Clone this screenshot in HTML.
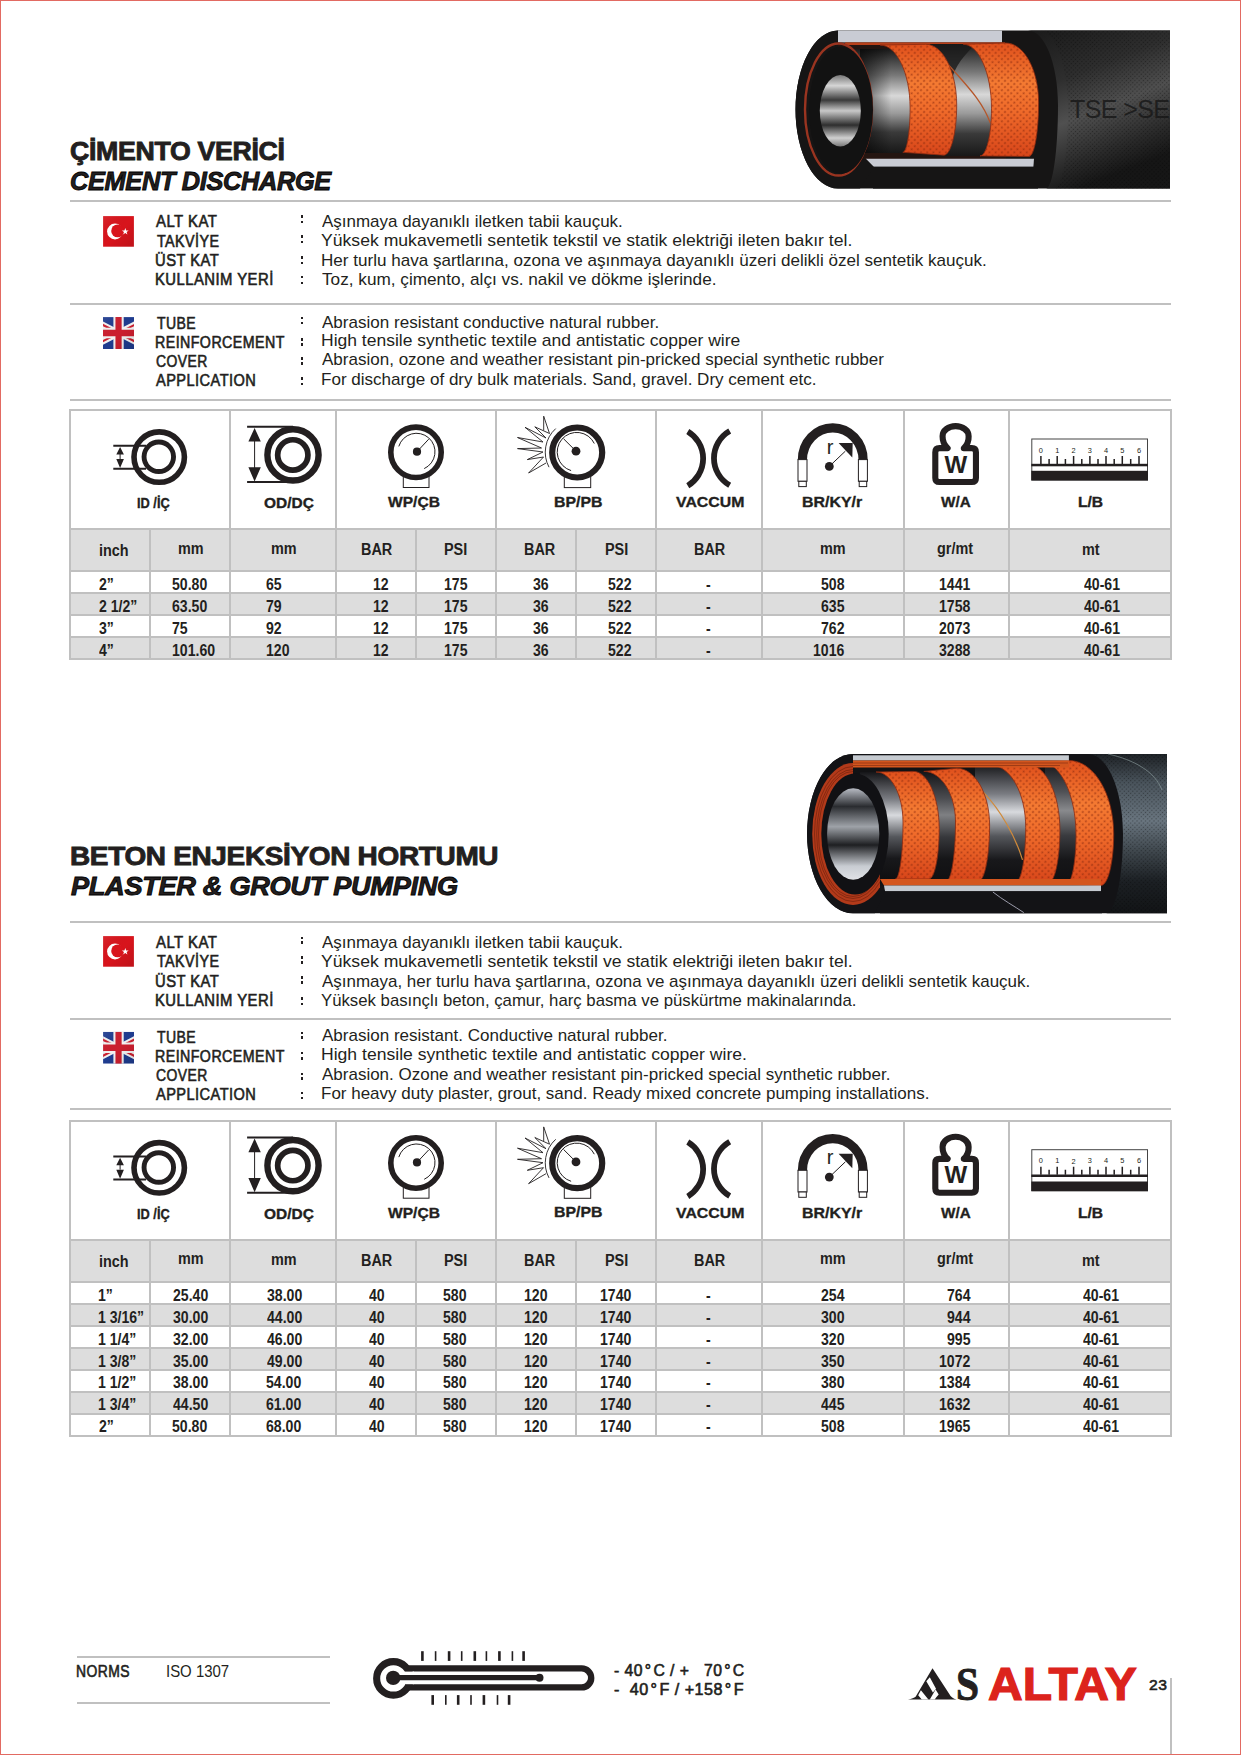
<!DOCTYPE html>
<html><head><meta charset="utf-8"><style>
html,body{margin:0;padding:0;background:#fff;overflow:hidden}
#pg{position:relative;width:1241px;height:1755px;overflow:hidden;background:#fff}
.t{position:absolute;white-space:nowrap;line-height:normal;transform-origin:0 0}
.r{position:absolute}
#bd{position:absolute;left:0;top:0;width:1239px;height:1753px;border:1px solid #e26a62}
</style></head><body><div id="pg">
<div class="r" style="left:70px;top:200.40px;width:1101px;height:2px;background:#c0c0c0"></div><div class="r" style="left:70px;top:302.90px;width:1101px;height:2px;background:#c0c0c0"></div><div class="r" style="left:70px;top:399.00px;width:1101px;height:2px;background:#c0c0c0"></div><div class="r" style="left:70px;top:920.80px;width:1101px;height:2px;background:#c0c0c0"></div><div class="r" style="left:70px;top:1017.90px;width:1101px;height:2px;background:#c0c0c0"></div><div class="r" style="left:70px;top:1108.00px;width:1101px;height:2px;background:#c0c0c0"></div><div class="r" style="left:70px;top:529.3px;width:1101px;height:41.700000000000045px;background:#dddddd"></div><div class="r" style="left:70px;top:593.4px;width:1101px;height:21.899999999999977px;background:#dddddd"></div><div class="r" style="left:70px;top:637.3px;width:1101px;height:21.90000000000009px;background:#dddddd"></div><div class="r" style="left:69px;top:409.10px;width:1103px;height:2px;background:#c0c0c0"></div><div class="r" style="left:69px;top:528.30px;width:1103px;height:2px;background:#c0c0c0"></div><div class="r" style="left:69px;top:570.00px;width:1103px;height:2px;background:#c0c0c0"></div><div class="r" style="left:69px;top:592.40px;width:1103px;height:2px;background:#c0c0c0"></div><div class="r" style="left:69px;top:614.30px;width:1103px;height:2px;background:#c0c0c0"></div><div class="r" style="left:69px;top:636.30px;width:1103px;height:2px;background:#c0c0c0"></div><div class="r" style="left:69px;top:658.20px;width:1103px;height:2px;background:#c0c0c0"></div><div class="r" style="left:69.00px;top:409.1px;width:2px;height:251.10000000000002px;background:#c0c0c0"></div><div class="r" style="left:229.00px;top:409.1px;width:2px;height:251.10000000000002px;background:#c0c0c0"></div><div class="r" style="left:335.30px;top:409.1px;width:2px;height:251.10000000000002px;background:#c0c0c0"></div><div class="r" style="left:495.30px;top:409.1px;width:2px;height:251.10000000000002px;background:#c0c0c0"></div><div class="r" style="left:655.30px;top:409.1px;width:2px;height:251.10000000000002px;background:#c0c0c0"></div><div class="r" style="left:761.00px;top:409.1px;width:2px;height:251.10000000000002px;background:#c0c0c0"></div><div class="r" style="left:903.30px;top:409.1px;width:2px;height:251.10000000000002px;background:#c0c0c0"></div><div class="r" style="left:1008.00px;top:409.1px;width:2px;height:251.10000000000002px;background:#c0c0c0"></div><div class="r" style="left:1170.00px;top:409.1px;width:2px;height:251.10000000000002px;background:#c0c0c0"></div><div class="r" style="left:149.20px;top:529.3px;width:2px;height:129.9000000000001px;background:#c0c0c0"></div><div class="r" style="left:415.30px;top:529.3px;width:2px;height:129.9000000000001px;background:#c0c0c0"></div><div class="r" style="left:575.30px;top:529.3px;width:2px;height:129.9000000000001px;background:#c0c0c0"></div><div class="r" style="left:70px;top:1240.0px;width:1101px;height:41.5px;background:#dddddd"></div><div class="r" style="left:70px;top:1303.5px;width:1101px;height:22.09999999999991px;background:#dddddd"></div><div class="r" style="left:70px;top:1347.8px;width:1101px;height:22.100000000000136px;background:#dddddd"></div><div class="r" style="left:70px;top:1392.0px;width:1101px;height:22.200000000000045px;background:#dddddd"></div><div class="r" style="left:69px;top:1120.00px;width:1103px;height:2px;background:#c0c0c0"></div><div class="r" style="left:69px;top:1239.00px;width:1103px;height:2px;background:#c0c0c0"></div><div class="r" style="left:69px;top:1280.50px;width:1103px;height:2px;background:#c0c0c0"></div><div class="r" style="left:69px;top:1302.50px;width:1103px;height:2px;background:#c0c0c0"></div><div class="r" style="left:69px;top:1324.60px;width:1103px;height:2px;background:#c0c0c0"></div><div class="r" style="left:69px;top:1346.80px;width:1103px;height:2px;background:#c0c0c0"></div><div class="r" style="left:69px;top:1368.90px;width:1103px;height:2px;background:#c0c0c0"></div><div class="r" style="left:69px;top:1391.00px;width:1103px;height:2px;background:#c0c0c0"></div><div class="r" style="left:69px;top:1413.20px;width:1103px;height:2px;background:#c0c0c0"></div><div class="r" style="left:69px;top:1435.00px;width:1103px;height:2px;background:#c0c0c0"></div><div class="r" style="left:69.00px;top:1120.0px;width:2px;height:317.0px;background:#c0c0c0"></div><div class="r" style="left:229.00px;top:1120.0px;width:2px;height:317.0px;background:#c0c0c0"></div><div class="r" style="left:335.30px;top:1120.0px;width:2px;height:317.0px;background:#c0c0c0"></div><div class="r" style="left:495.30px;top:1120.0px;width:2px;height:317.0px;background:#c0c0c0"></div><div class="r" style="left:655.30px;top:1120.0px;width:2px;height:317.0px;background:#c0c0c0"></div><div class="r" style="left:761.00px;top:1120.0px;width:2px;height:317.0px;background:#c0c0c0"></div><div class="r" style="left:903.30px;top:1120.0px;width:2px;height:317.0px;background:#c0c0c0"></div><div class="r" style="left:1008.00px;top:1120.0px;width:2px;height:317.0px;background:#c0c0c0"></div><div class="r" style="left:1170.00px;top:1120.0px;width:2px;height:317.0px;background:#c0c0c0"></div><div class="r" style="left:149.20px;top:1240.0px;width:2px;height:196.0px;background:#c0c0c0"></div><div class="r" style="left:415.30px;top:1240.0px;width:2px;height:196.0px;background:#c0c0c0"></div><div class="r" style="left:575.30px;top:1240.0px;width:2px;height:196.0px;background:#c0c0c0"></div><div class="r" style="left:300.5px;top:215.3px;width:2.5px;height:2.3999999999999773px;background:#231f20"></div><div class="r" style="left:300.5px;top:220.5px;width:2.5px;height:2.4000000000000057px;background:#231f20"></div><div class="r" style="left:300.5px;top:235.3px;width:2.5px;height:2.3999999999999773px;background:#231f20"></div><div class="r" style="left:300.5px;top:241.0px;width:2.5px;height:2.4000000000000057px;background:#231f20"></div><div class="r" style="left:300.5px;top:256.4px;width:2.5px;height:2.400000000000034px;background:#231f20"></div><div class="r" style="left:300.5px;top:261.6px;width:2.5px;height:2.3999999999999773px;background:#231f20"></div><div class="r" style="left:300.5px;top:275.9px;width:2.5px;height:2.400000000000034px;background:#231f20"></div><div class="r" style="left:300.5px;top:281.7px;width:2.5px;height:2.400000000000034px;background:#231f20"></div><div class="r" style="left:300.5px;top:316.6px;width:2.5px;height:2.3999999999999773px;background:#231f20"></div><div class="r" style="left:300.5px;top:321.7px;width:2.5px;height:2.400000000000034px;background:#231f20"></div><div class="r" style="left:300.5px;top:338.2px;width:2.5px;height:2.400000000000034px;background:#231f20"></div><div class="r" style="left:300.5px;top:343.4px;width:2.5px;height:2.400000000000034px;background:#231f20"></div><div class="r" style="left:300.5px;top:357.2px;width:2.5px;height:2.400000000000034px;background:#231f20"></div><div class="r" style="left:300.5px;top:362.4px;width:2.5px;height:2.400000000000034px;background:#231f20"></div><div class="r" style="left:300.5px;top:377.2px;width:2.5px;height:2.400000000000034px;background:#231f20"></div><div class="r" style="left:300.5px;top:382.9px;width:2.5px;height:2.400000000000034px;background:#231f20"></div><div class="r" style="left:300.5px;top:936.7px;width:2.5px;height:2.3999999999999773px;background:#231f20"></div><div class="r" style="left:300.5px;top:941.4px;width:2.5px;height:2.3999999999999773px;background:#231f20"></div><div class="r" style="left:300.5px;top:956.2px;width:2.5px;height:2.3999999999999773px;background:#231f20"></div><div class="r" style="left:300.5px;top:961.4px;width:2.5px;height:2.3999999999999773px;background:#231f20"></div><div class="r" style="left:300.5px;top:976.2px;width:2.5px;height:2.3999999999999773px;background:#231f20"></div><div class="r" style="left:300.5px;top:981.4px;width:2.5px;height:2.3999999999999773px;background:#231f20"></div><div class="r" style="left:300.5px;top:997.2px;width:2.5px;height:2.3999999999999773px;background:#231f20"></div><div class="r" style="left:300.5px;top:1002.5px;width:2.5px;height:2.3999999999999773px;background:#231f20"></div><div class="r" style="left:300.5px;top:1031.5px;width:2.5px;height:2.400000000000091px;background:#231f20"></div><div class="r" style="left:300.5px;top:1036.3px;width:2.5px;height:2.400000000000091px;background:#231f20"></div><div class="r" style="left:300.5px;top:1052px;width:2.5px;height:2.400000000000091px;background:#231f20"></div><div class="r" style="left:300.5px;top:1057.3px;width:2.5px;height:2.400000000000091px;background:#231f20"></div><div class="r" style="left:300.5px;top:1072.6px;width:2.5px;height:2.400000000000091px;background:#231f20"></div><div class="r" style="left:300.5px;top:1077.3px;width:2.5px;height:2.400000000000091px;background:#231f20"></div><div class="r" style="left:300.5px;top:1092px;width:2.5px;height:2.400000000000091px;background:#231f20"></div><div class="r" style="left:300.5px;top:1096.8px;width:2.5px;height:2.400000000000091px;background:#231f20"></div><div class="r" style="left:76.9px;top:1656.00px;width:253.4px;height:2px;background:#c0c0c0"></div><div class="r" style="left:76.9px;top:1702.20px;width:253.4px;height:2px;background:#c0c0c0"></div><div class="r" style="left:1170.20px;top:1678.4px;width:2px;height:75.59999999999991px;background:#c0c0c0"></div><div class="t" style="left:69.78px;top:136.09px;font-size:26.2px;font-family:'Liberation Sans',sans-serif;font-weight:bold;-webkit-text-stroke:0.9px #231f20;letter-spacing:-0.3px;transform:scaleX(1.0191);color:#231f20">ÇİMENTO VERİCİ</div><div class="t" style="left:69.83px;top:166.29px;font-size:26.2px;font-family:'Liberation Sans',sans-serif;font-weight:bold;font-style:italic;-webkit-text-stroke:0.9px #000;letter-spacing:-0.3px;transform:scaleX(0.9657);color:#231f20">CEMENT DISCHARGE</div><div class="t" style="left:155.80px;top:212.04px;font-size:16.2px;font-family:'Liberation Sans',sans-serif;font-weight:normal;-webkit-text-stroke:0.6px #231f20;letter-spacing:0.5px;transform:scaleX(0.9227);color:#231f20">ALT KAT</div><div class="t" style="left:322.20px;top:211.86px;font-size:16.4px;font-family:'Liberation Sans',sans-serif;font-weight:normal;transform:scaleX(1.0349);color:#231f20">Aşınmaya dayanıklı iletken tabii kauçuk.</div><div class="t" style="left:156.80px;top:231.64px;font-size:16.2px;font-family:'Liberation Sans',sans-serif;font-weight:normal;-webkit-text-stroke:0.6px #231f20;letter-spacing:0.5px;transform:scaleX(0.8843);color:#231f20">TAKVİYE</div><div class="t" style="left:321.13px;top:231.46px;font-size:16.4px;font-family:'Liberation Sans',sans-serif;font-weight:normal;transform:scaleX(1.0742);color:#231f20">Yüksek mukavemetli sentetik tekstil ve statik elektriği ileten bakır tel.</div><div class="t" style="left:154.89px;top:251.04px;font-size:16.2px;font-family:'Liberation Sans',sans-serif;font-weight:normal;-webkit-text-stroke:0.6px #231f20;letter-spacing:0.5px;transform:scaleX(0.9145);color:#231f20">ÜST KAT</div><div class="t" style="left:321.16px;top:250.86px;font-size:16.4px;font-family:'Liberation Sans',sans-serif;font-weight:normal;transform:scaleX(1.0411);color:#231f20">Her turlu hava şartlarına, ozona ve aşınmaya dayanıklı üzeri delikli özel sentetik kauçuk.</div><div class="t" style="left:154.88px;top:269.94px;font-size:16.2px;font-family:'Liberation Sans',sans-serif;font-weight:normal;-webkit-text-stroke:0.6px #231f20;letter-spacing:0.5px;transform:scaleX(0.9173);color:#231f20">KULLANIM YERİ</div><div class="t" style="left:322.20px;top:269.76px;font-size:16.4px;font-family:'Liberation Sans',sans-serif;font-weight:normal;transform:scaleX(1.0485);color:#231f20">Toz, kum, çimento, alçı vs. nakil ve dökme işlerinde.</div><div class="t" style="left:156.80px;top:313.94px;font-size:16.2px;font-family:'Liberation Sans',sans-serif;font-weight:normal;-webkit-text-stroke:0.6px #231f20;letter-spacing:0.5px;transform:scaleX(0.8667);color:#231f20">TUBE</div><div class="t" style="left:322.20px;top:312.56px;font-size:16.4px;font-family:'Liberation Sans',sans-serif;font-weight:normal;transform:scaleX(1.0396);color:#231f20">Abrasion resistant conductive natural rubber.</div><div class="t" style="left:155.22px;top:332.74px;font-size:16.2px;font-family:'Liberation Sans',sans-serif;font-weight:normal;-webkit-text-stroke:0.6px #231f20;letter-spacing:0.5px;transform:scaleX(0.8788);color:#231f20">REINFORCEMENT</div><div class="t" style="left:321.13px;top:331.46px;font-size:16.4px;font-family:'Liberation Sans',sans-serif;font-weight:normal;transform:scaleX(1.0678);color:#231f20">High tensile synthetic textile and antistatic copper wire</div><div class="t" style="left:156.10px;top:351.94px;font-size:16.2px;font-family:'Liberation Sans',sans-serif;font-weight:normal;-webkit-text-stroke:0.6px #231f20;letter-spacing:0.5px;transform:scaleX(0.8593);color:#231f20">COVER</div><div class="t" style="left:322.20px;top:350.46px;font-size:16.4px;font-family:'Liberation Sans',sans-serif;font-weight:normal;transform:scaleX(1.0384);color:#231f20">Abrasion, ozone and weather resistant pin-pricked special synthetic rubber</div><div class="t" style="left:156.10px;top:371.24px;font-size:16.2px;font-family:'Liberation Sans',sans-serif;font-weight:normal;-webkit-text-stroke:0.6px #231f20;letter-spacing:0.5px;transform:scaleX(0.9009);color:#231f20">APPLICATION</div><div class="t" style="left:321.16px;top:369.96px;font-size:16.4px;font-family:'Liberation Sans',sans-serif;font-weight:normal;transform:scaleX(1.0399);color:#231f20">For discharge of dry bulk materials. Sand, gravel. Dry cement etc.</div><div class="t" style="left:69.73px;top:841.29px;font-size:26.2px;font-family:'Liberation Sans',sans-serif;font-weight:bold;-webkit-text-stroke:0.9px #231f20;letter-spacing:-0.3px;transform:scaleX(1.0674);color:#231f20">BETON ENJEKSİYON HORTUMU</div><div class="t" style="left:70.80px;top:871.09px;font-size:26.2px;font-family:'Liberation Sans',sans-serif;font-weight:bold;font-style:italic;-webkit-text-stroke:0.9px #000;letter-spacing:-0.3px;transform:scaleX(1.0375);color:#231f20">PLASTER & GROUT PUMPING</div><div class="t" style="left:155.80px;top:933.24px;font-size:16.2px;font-family:'Liberation Sans',sans-serif;font-weight:normal;-webkit-text-stroke:0.6px #231f20;letter-spacing:0.5px;transform:scaleX(0.9227);color:#231f20">ALT KAT</div><div class="t" style="left:322.20px;top:933.06px;font-size:16.4px;font-family:'Liberation Sans',sans-serif;font-weight:normal;transform:scaleX(1.0356);color:#231f20">Aşınmaya dayanıklı iletken tabii kauçuk.</div><div class="t" style="left:156.80px;top:951.74px;font-size:16.2px;font-family:'Liberation Sans',sans-serif;font-weight:normal;-webkit-text-stroke:0.6px #231f20;letter-spacing:0.5px;transform:scaleX(0.8843);color:#231f20">TAKVİYE</div><div class="t" style="left:321.13px;top:951.56px;font-size:16.4px;font-family:'Liberation Sans',sans-serif;font-weight:normal;transform:scaleX(1.0746);color:#231f20">Yüksek mukavemetli sentetik tekstil ve statik elektriği ileten bakır tel.</div><div class="t" style="left:154.89px;top:971.74px;font-size:16.2px;font-family:'Liberation Sans',sans-serif;font-weight:normal;-webkit-text-stroke:0.6px #231f20;letter-spacing:0.5px;transform:scaleX(0.9145);color:#231f20">ÜST KAT</div><div class="t" style="left:322.20px;top:971.56px;font-size:16.4px;font-family:'Liberation Sans',sans-serif;font-weight:normal;transform:scaleX(1.0351);color:#231f20">Aşınmaya, her turlu hava şartlarına, ozona ve aşınmaya dayanıklı üzeri delikli sentetik kauçuk.</div><div class="t" style="left:154.88px;top:990.74px;font-size:16.2px;font-family:'Liberation Sans',sans-serif;font-weight:normal;-webkit-text-stroke:0.6px #231f20;letter-spacing:0.5px;transform:scaleX(0.9173);color:#231f20">KULLANIM YERİ</div><div class="t" style="left:321.18px;top:990.56px;font-size:16.4px;font-family:'Liberation Sans',sans-serif;font-weight:normal;transform:scaleX(1.0220);color:#231f20">Yüksek basınçlı beton, çamur, harç basma ve püskürtme makinalarında.</div><div class="t" style="left:156.80px;top:1027.54px;font-size:16.2px;font-family:'Liberation Sans',sans-serif;font-weight:normal;-webkit-text-stroke:0.6px #231f20;letter-spacing:0.5px;transform:scaleX(0.8667);color:#231f20">TUBE</div><div class="t" style="left:322.20px;top:1025.96px;font-size:16.4px;font-family:'Liberation Sans',sans-serif;font-weight:normal;transform:scaleX(1.0387);color:#231f20">Abrasion resistant. Conductive natural rubber.</div><div class="t" style="left:155.22px;top:1046.64px;font-size:16.2px;font-family:'Liberation Sans',sans-serif;font-weight:normal;-webkit-text-stroke:0.6px #231f20;letter-spacing:0.5px;transform:scaleX(0.8788);color:#231f20">REINFORCEMENT</div><div class="t" style="left:321.13px;top:1044.86px;font-size:16.4px;font-family:'Liberation Sans',sans-serif;font-weight:normal;transform:scaleX(1.0722);color:#231f20">High tensile synthetic textile and antistatic copper wire.</div><div class="t" style="left:156.10px;top:1066.34px;font-size:16.2px;font-family:'Liberation Sans',sans-serif;font-weight:normal;-webkit-text-stroke:0.6px #231f20;letter-spacing:0.5px;transform:scaleX(0.8593);color:#231f20">COVER</div><div class="t" style="left:322.20px;top:1064.86px;font-size:16.4px;font-family:'Liberation Sans',sans-serif;font-weight:normal;transform:scaleX(1.0364);color:#231f20">Abrasion. Ozone and weather resistant pin-pricked special synthetic rubber.</div><div class="t" style="left:156.10px;top:1085.34px;font-size:16.2px;font-family:'Liberation Sans',sans-serif;font-weight:normal;-webkit-text-stroke:0.6px #231f20;letter-spacing:0.5px;transform:scaleX(0.9009);color:#231f20">APPLICATION</div><div class="t" style="left:321.16px;top:1083.86px;font-size:16.4px;font-family:'Liberation Sans',sans-serif;font-weight:normal;transform:scaleX(1.0369);color:#231f20">For heavy duty plaster, grout, sand. Ready mixed concrete pumping installations.</div><div class="t" style="left:137.46px;top:493.95px;font-size:15.3px;font-family:'Liberation Sans',sans-serif;font-weight:bold;-webkit-text-stroke:0.35px #231f20;transform:scaleX(0.8368);color:#231f20">ID /İÇ</div><div class="t" style="left:263.60px;top:493.85px;font-size:15.3px;font-family:'Liberation Sans',sans-serif;font-weight:bold;-webkit-text-stroke:0.35px #231f20;transform:scaleX(1.0122);color:#231f20">OD/DÇ</div><div class="t" style="left:388.40px;top:493.45px;font-size:15.3px;font-family:'Liberation Sans',sans-serif;font-weight:bold;-webkit-text-stroke:0.35px #231f20;transform:scaleX(1.0176);color:#231f20">WP/ÇB</div><div class="t" style="left:554.16px;top:492.75px;font-size:15.3px;font-family:'Liberation Sans',sans-serif;font-weight:bold;-webkit-text-stroke:0.35px #231f20;transform:scaleX(1.0356);color:#231f20">BP/PB</div><div class="t" style="left:675.70px;top:492.85px;font-size:15.3px;font-family:'Liberation Sans',sans-serif;font-weight:bold;-webkit-text-stroke:0.35px #231f20;transform:scaleX(1.0354);color:#231f20">VACCUM</div><div class="t" style="left:802.46px;top:492.85px;font-size:15.3px;font-family:'Liberation Sans',sans-serif;font-weight:bold;-webkit-text-stroke:0.35px #231f20;transform:scaleX(1.0404);color:#231f20">BR/KY/r</div><div class="t" style="left:941.00px;top:492.85px;font-size:15.3px;font-family:'Liberation Sans',sans-serif;font-weight:bold;-webkit-text-stroke:0.35px #231f20;transform:scaleX(0.9967);color:#231f20">W/A</div><div class="t" style="left:1077.68px;top:492.85px;font-size:15.3px;font-family:'Liberation Sans',sans-serif;font-weight:bold;-webkit-text-stroke:0.35px #231f20;transform:scaleX(1.0174);color:#231f20">L/B</div><div class="t" style="left:98.58px;top:541.98px;font-size:15.6px;font-family:'Liberation Sans',sans-serif;font-weight:bold;transform:scaleX(0.9250);color:#231f20">inch</div><div class="t" style="left:178.38px;top:539.58px;font-size:15.6px;font-family:'Liberation Sans',sans-serif;font-weight:bold;transform:scaleX(0.9250);color:#231f20">mm</div><div class="t" style="left:271.07px;top:540.18px;font-size:15.6px;font-family:'Liberation Sans',sans-serif;font-weight:bold;transform:scaleX(0.9250);color:#231f20">mm</div><div class="t" style="left:360.57px;top:541.48px;font-size:15.6px;font-family:'Liberation Sans',sans-serif;font-weight:bold;transform:scaleX(0.9250);color:#231f20">BAR</div><div class="t" style="left:443.77px;top:541.48px;font-size:15.6px;font-family:'Liberation Sans',sans-serif;font-weight:bold;transform:scaleX(0.9250);color:#231f20">PSI</div><div class="t" style="left:524.18px;top:541.48px;font-size:15.6px;font-family:'Liberation Sans',sans-serif;font-weight:bold;transform:scaleX(0.9250);color:#231f20">BAR</div><div class="t" style="left:604.88px;top:541.48px;font-size:15.6px;font-family:'Liberation Sans',sans-serif;font-weight:bold;transform:scaleX(0.9250);color:#231f20">PSI</div><div class="t" style="left:693.78px;top:541.48px;font-size:15.6px;font-family:'Liberation Sans',sans-serif;font-weight:bold;transform:scaleX(0.9250);color:#231f20">BAR</div><div class="t" style="left:820.28px;top:539.78px;font-size:15.6px;font-family:'Liberation Sans',sans-serif;font-weight:bold;transform:scaleX(0.9250);color:#231f20">mm</div><div class="t" style="left:936.68px;top:539.68px;font-size:15.6px;font-family:'Liberation Sans',sans-serif;font-weight:bold;transform:scaleX(0.9250);color:#231f20">gr/mt</div><div class="t" style="left:1081.78px;top:541.18px;font-size:15.6px;font-family:'Liberation Sans',sans-serif;font-weight:bold;transform:scaleX(0.9250);color:#231f20">mt</div><div class="t" style="left:99.20px;top:575.24px;font-size:16.2px;font-family:'Liberation Sans',sans-serif;font-weight:bold;transform:scaleX(0.8692);color:#231f20">2”</div><div class="t" style="left:171.93px;top:575.24px;font-size:16.2px;font-family:'Liberation Sans',sans-serif;font-weight:bold;transform:scaleX(0.8692);color:#231f20">50.80</div><div class="t" style="left:265.83px;top:575.24px;font-size:16.2px;font-family:'Liberation Sans',sans-serif;font-weight:bold;transform:scaleX(0.8692);color:#231f20">65</div><div class="t" style="left:373.33px;top:575.24px;font-size:16.2px;font-family:'Liberation Sans',sans-serif;font-weight:bold;transform:scaleX(0.8692);color:#231f20">12</div><div class="t" style="left:443.83px;top:575.24px;font-size:16.2px;font-family:'Liberation Sans',sans-serif;font-weight:bold;transform:scaleX(0.8692);color:#231f20">175</div><div class="t" style="left:532.70px;top:575.24px;font-size:16.2px;font-family:'Liberation Sans',sans-serif;font-weight:bold;transform:scaleX(0.8692);color:#231f20">36</div><div class="t" style="left:607.83px;top:575.24px;font-size:16.2px;font-family:'Liberation Sans',sans-serif;font-weight:bold;transform:scaleX(0.8692);color:#231f20">522</div><div class="t" style="left:706.29px;top:575.24px;font-size:16.2px;font-family:'Liberation Sans',sans-serif;font-weight:bold;transform:scaleX(0.8692);color:#231f20">-</div><div class="t" style="left:821.03px;top:575.24px;font-size:16.2px;font-family:'Liberation Sans',sans-serif;font-weight:bold;transform:scaleX(0.8692);color:#231f20">508</div><div class="t" style="left:938.71px;top:575.24px;font-size:16.2px;font-family:'Liberation Sans',sans-serif;font-weight:bold;transform:scaleX(0.8692);color:#231f20">1441</div><div class="t" style="left:1083.50px;top:575.24px;font-size:16.2px;font-family:'Liberation Sans',sans-serif;font-weight:bold;transform:scaleX(0.8692);color:#231f20">40-61</div><div class="t" style="left:99.20px;top:597.04px;font-size:16.2px;font-family:'Liberation Sans',sans-serif;font-weight:bold;transform:scaleX(0.8692);color:#231f20">2 1/2”</div><div class="t" style="left:171.93px;top:597.04px;font-size:16.2px;font-family:'Liberation Sans',sans-serif;font-weight:bold;transform:scaleX(0.8692);color:#231f20">63.50</div><div class="t" style="left:265.83px;top:597.04px;font-size:16.2px;font-family:'Liberation Sans',sans-serif;font-weight:bold;transform:scaleX(0.8692);color:#231f20">79</div><div class="t" style="left:373.33px;top:597.04px;font-size:16.2px;font-family:'Liberation Sans',sans-serif;font-weight:bold;transform:scaleX(0.8692);color:#231f20">12</div><div class="t" style="left:443.83px;top:597.04px;font-size:16.2px;font-family:'Liberation Sans',sans-serif;font-weight:bold;transform:scaleX(0.8692);color:#231f20">175</div><div class="t" style="left:532.70px;top:597.04px;font-size:16.2px;font-family:'Liberation Sans',sans-serif;font-weight:bold;transform:scaleX(0.8692);color:#231f20">36</div><div class="t" style="left:607.83px;top:597.04px;font-size:16.2px;font-family:'Liberation Sans',sans-serif;font-weight:bold;transform:scaleX(0.8692);color:#231f20">522</div><div class="t" style="left:706.29px;top:597.04px;font-size:16.2px;font-family:'Liberation Sans',sans-serif;font-weight:bold;transform:scaleX(0.8692);color:#231f20">-</div><div class="t" style="left:821.03px;top:597.04px;font-size:16.2px;font-family:'Liberation Sans',sans-serif;font-weight:bold;transform:scaleX(0.8692);color:#231f20">635</div><div class="t" style="left:938.71px;top:597.04px;font-size:16.2px;font-family:'Liberation Sans',sans-serif;font-weight:bold;transform:scaleX(0.8692);color:#231f20">1758</div><div class="t" style="left:1083.50px;top:597.04px;font-size:16.2px;font-family:'Liberation Sans',sans-serif;font-weight:bold;transform:scaleX(0.8692);color:#231f20">40-61</div><div class="t" style="left:99.20px;top:618.84px;font-size:16.2px;font-family:'Liberation Sans',sans-serif;font-weight:bold;transform:scaleX(0.8692);color:#231f20">3”</div><div class="t" style="left:171.93px;top:618.84px;font-size:16.2px;font-family:'Liberation Sans',sans-serif;font-weight:bold;transform:scaleX(0.8692);color:#231f20">75</div><div class="t" style="left:265.83px;top:618.84px;font-size:16.2px;font-family:'Liberation Sans',sans-serif;font-weight:bold;transform:scaleX(0.8692);color:#231f20">92</div><div class="t" style="left:373.33px;top:618.84px;font-size:16.2px;font-family:'Liberation Sans',sans-serif;font-weight:bold;transform:scaleX(0.8692);color:#231f20">12</div><div class="t" style="left:443.83px;top:618.84px;font-size:16.2px;font-family:'Liberation Sans',sans-serif;font-weight:bold;transform:scaleX(0.8692);color:#231f20">175</div><div class="t" style="left:532.70px;top:618.84px;font-size:16.2px;font-family:'Liberation Sans',sans-serif;font-weight:bold;transform:scaleX(0.8692);color:#231f20">36</div><div class="t" style="left:607.83px;top:618.84px;font-size:16.2px;font-family:'Liberation Sans',sans-serif;font-weight:bold;transform:scaleX(0.8692);color:#231f20">522</div><div class="t" style="left:706.29px;top:618.84px;font-size:16.2px;font-family:'Liberation Sans',sans-serif;font-weight:bold;transform:scaleX(0.8692);color:#231f20">-</div><div class="t" style="left:821.03px;top:618.84px;font-size:16.2px;font-family:'Liberation Sans',sans-serif;font-weight:bold;transform:scaleX(0.8692);color:#231f20">762</div><div class="t" style="left:938.71px;top:618.84px;font-size:16.2px;font-family:'Liberation Sans',sans-serif;font-weight:bold;transform:scaleX(0.8692);color:#231f20">2073</div><div class="t" style="left:1083.50px;top:618.84px;font-size:16.2px;font-family:'Liberation Sans',sans-serif;font-weight:bold;transform:scaleX(0.8692);color:#231f20">40-61</div><div class="t" style="left:99.20px;top:640.54px;font-size:16.2px;font-family:'Liberation Sans',sans-serif;font-weight:bold;transform:scaleX(0.8692);color:#231f20">4”</div><div class="t" style="left:171.93px;top:640.54px;font-size:16.2px;font-family:'Liberation Sans',sans-serif;font-weight:bold;transform:scaleX(0.8692);color:#231f20">101.60</div><div class="t" style="left:265.83px;top:640.54px;font-size:16.2px;font-family:'Liberation Sans',sans-serif;font-weight:bold;transform:scaleX(0.8692);color:#231f20">120</div><div class="t" style="left:373.33px;top:640.54px;font-size:16.2px;font-family:'Liberation Sans',sans-serif;font-weight:bold;transform:scaleX(0.8692);color:#231f20">12</div><div class="t" style="left:443.83px;top:640.54px;font-size:16.2px;font-family:'Liberation Sans',sans-serif;font-weight:bold;transform:scaleX(0.8692);color:#231f20">175</div><div class="t" style="left:532.70px;top:640.54px;font-size:16.2px;font-family:'Liberation Sans',sans-serif;font-weight:bold;transform:scaleX(0.8692);color:#231f20">36</div><div class="t" style="left:607.83px;top:640.54px;font-size:16.2px;font-family:'Liberation Sans',sans-serif;font-weight:bold;transform:scaleX(0.8692);color:#231f20">522</div><div class="t" style="left:706.29px;top:640.54px;font-size:16.2px;font-family:'Liberation Sans',sans-serif;font-weight:bold;transform:scaleX(0.8692);color:#231f20">-</div><div class="t" style="left:813.21px;top:640.54px;font-size:16.2px;font-family:'Liberation Sans',sans-serif;font-weight:bold;transform:scaleX(0.8692);color:#231f20">1016</div><div class="t" style="left:938.71px;top:640.54px;font-size:16.2px;font-family:'Liberation Sans',sans-serif;font-weight:bold;transform:scaleX(0.8692);color:#231f20">3288</div><div class="t" style="left:1083.50px;top:640.54px;font-size:16.2px;font-family:'Liberation Sans',sans-serif;font-weight:bold;transform:scaleX(0.8692);color:#231f20">40-61</div><div class="t" style="left:137.46px;top:1204.65px;font-size:15.3px;font-family:'Liberation Sans',sans-serif;font-weight:bold;-webkit-text-stroke:0.35px #231f20;transform:scaleX(0.8368);color:#231f20">ID /İÇ</div><div class="t" style="left:263.60px;top:1204.55px;font-size:15.3px;font-family:'Liberation Sans',sans-serif;font-weight:bold;-webkit-text-stroke:0.35px #231f20;transform:scaleX(1.0122);color:#231f20">OD/DÇ</div><div class="t" style="left:388.40px;top:1204.15px;font-size:15.3px;font-family:'Liberation Sans',sans-serif;font-weight:bold;-webkit-text-stroke:0.35px #231f20;transform:scaleX(1.0176);color:#231f20">WP/ÇB</div><div class="t" style="left:554.16px;top:1203.45px;font-size:15.3px;font-family:'Liberation Sans',sans-serif;font-weight:bold;-webkit-text-stroke:0.35px #231f20;transform:scaleX(1.0356);color:#231f20">BP/PB</div><div class="t" style="left:675.70px;top:1203.55px;font-size:15.3px;font-family:'Liberation Sans',sans-serif;font-weight:bold;-webkit-text-stroke:0.35px #231f20;transform:scaleX(1.0354);color:#231f20">VACCUM</div><div class="t" style="left:802.46px;top:1203.55px;font-size:15.3px;font-family:'Liberation Sans',sans-serif;font-weight:bold;-webkit-text-stroke:0.35px #231f20;transform:scaleX(1.0404);color:#231f20">BR/KY/r</div><div class="t" style="left:941.00px;top:1203.55px;font-size:15.3px;font-family:'Liberation Sans',sans-serif;font-weight:bold;-webkit-text-stroke:0.35px #231f20;transform:scaleX(0.9967);color:#231f20">W/A</div><div class="t" style="left:1077.68px;top:1203.55px;font-size:15.3px;font-family:'Liberation Sans',sans-serif;font-weight:bold;-webkit-text-stroke:0.35px #231f20;transform:scaleX(1.0174);color:#231f20">L/B</div><div class="t" style="left:98.58px;top:1252.68px;font-size:15.6px;font-family:'Liberation Sans',sans-serif;font-weight:bold;transform:scaleX(0.9250);color:#231f20">inch</div><div class="t" style="left:178.38px;top:1250.28px;font-size:15.6px;font-family:'Liberation Sans',sans-serif;font-weight:bold;transform:scaleX(0.9250);color:#231f20">mm</div><div class="t" style="left:271.07px;top:1250.88px;font-size:15.6px;font-family:'Liberation Sans',sans-serif;font-weight:bold;transform:scaleX(0.9250);color:#231f20">mm</div><div class="t" style="left:360.57px;top:1252.18px;font-size:15.6px;font-family:'Liberation Sans',sans-serif;font-weight:bold;transform:scaleX(0.9250);color:#231f20">BAR</div><div class="t" style="left:443.77px;top:1252.18px;font-size:15.6px;font-family:'Liberation Sans',sans-serif;font-weight:bold;transform:scaleX(0.9250);color:#231f20">PSI</div><div class="t" style="left:524.18px;top:1252.18px;font-size:15.6px;font-family:'Liberation Sans',sans-serif;font-weight:bold;transform:scaleX(0.9250);color:#231f20">BAR</div><div class="t" style="left:604.88px;top:1252.18px;font-size:15.6px;font-family:'Liberation Sans',sans-serif;font-weight:bold;transform:scaleX(0.9250);color:#231f20">PSI</div><div class="t" style="left:693.78px;top:1252.18px;font-size:15.6px;font-family:'Liberation Sans',sans-serif;font-weight:bold;transform:scaleX(0.9250);color:#231f20">BAR</div><div class="t" style="left:820.28px;top:1250.48px;font-size:15.6px;font-family:'Liberation Sans',sans-serif;font-weight:bold;transform:scaleX(0.9250);color:#231f20">mm</div><div class="t" style="left:936.68px;top:1250.38px;font-size:15.6px;font-family:'Liberation Sans',sans-serif;font-weight:bold;transform:scaleX(0.9250);color:#231f20">gr/mt</div><div class="t" style="left:1081.78px;top:1251.88px;font-size:15.6px;font-family:'Liberation Sans',sans-serif;font-weight:bold;transform:scaleX(0.9250);color:#231f20">mt</div><div class="t" style="left:98.33px;top:1285.94px;font-size:16.2px;font-family:'Liberation Sans',sans-serif;font-weight:bold;transform:scaleX(0.8692);color:#231f20">1”</div><div class="t" style="left:172.80px;top:1285.94px;font-size:16.2px;font-family:'Liberation Sans',sans-serif;font-weight:bold;transform:scaleX(0.8692);color:#231f20">25.40</div><div class="t" style="left:267.10px;top:1285.94px;font-size:16.2px;font-family:'Liberation Sans',sans-serif;font-weight:bold;transform:scaleX(0.8692);color:#231f20">38.00</div><div class="t" style="left:369.40px;top:1285.94px;font-size:16.2px;font-family:'Liberation Sans',sans-serif;font-weight:bold;transform:scaleX(0.8692);color:#231f20">40</div><div class="t" style="left:443.33px;top:1285.94px;font-size:16.2px;font-family:'Liberation Sans',sans-serif;font-weight:bold;transform:scaleX(0.8692);color:#231f20">580</div><div class="t" style="left:523.83px;top:1285.94px;font-size:16.2px;font-family:'Liberation Sans',sans-serif;font-weight:bold;transform:scaleX(0.8692);color:#231f20">120</div><div class="t" style="left:600.13px;top:1285.94px;font-size:16.2px;font-family:'Liberation Sans',sans-serif;font-weight:bold;transform:scaleX(0.8692);color:#231f20">1740</div><div class="t" style="left:706.29px;top:1285.94px;font-size:16.2px;font-family:'Liberation Sans',sans-serif;font-weight:bold;transform:scaleX(0.8692);color:#231f20">-</div><div class="t" style="left:820.83px;top:1285.94px;font-size:16.2px;font-family:'Liberation Sans',sans-serif;font-weight:bold;transform:scaleX(0.8692);color:#231f20">254</div><div class="t" style="left:946.73px;top:1285.94px;font-size:16.2px;font-family:'Liberation Sans',sans-serif;font-weight:bold;transform:scaleX(0.8692);color:#231f20">764</div><div class="t" style="left:1083.40px;top:1285.94px;font-size:16.2px;font-family:'Liberation Sans',sans-serif;font-weight:bold;transform:scaleX(0.8692);color:#231f20">40-61</div><div class="t" style="left:98.33px;top:1308.04px;font-size:16.2px;font-family:'Liberation Sans',sans-serif;font-weight:bold;transform:scaleX(0.8692);color:#231f20">1 3/16”</div><div class="t" style="left:172.80px;top:1308.04px;font-size:16.2px;font-family:'Liberation Sans',sans-serif;font-weight:bold;transform:scaleX(0.8692);color:#231f20">30.00</div><div class="t" style="left:267.10px;top:1308.04px;font-size:16.2px;font-family:'Liberation Sans',sans-serif;font-weight:bold;transform:scaleX(0.8692);color:#231f20">44.00</div><div class="t" style="left:369.40px;top:1308.04px;font-size:16.2px;font-family:'Liberation Sans',sans-serif;font-weight:bold;transform:scaleX(0.8692);color:#231f20">40</div><div class="t" style="left:443.33px;top:1308.04px;font-size:16.2px;font-family:'Liberation Sans',sans-serif;font-weight:bold;transform:scaleX(0.8692);color:#231f20">580</div><div class="t" style="left:523.83px;top:1308.04px;font-size:16.2px;font-family:'Liberation Sans',sans-serif;font-weight:bold;transform:scaleX(0.8692);color:#231f20">120</div><div class="t" style="left:600.13px;top:1308.04px;font-size:16.2px;font-family:'Liberation Sans',sans-serif;font-weight:bold;transform:scaleX(0.8692);color:#231f20">1740</div><div class="t" style="left:706.29px;top:1308.04px;font-size:16.2px;font-family:'Liberation Sans',sans-serif;font-weight:bold;transform:scaleX(0.8692);color:#231f20">-</div><div class="t" style="left:820.83px;top:1308.04px;font-size:16.2px;font-family:'Liberation Sans',sans-serif;font-weight:bold;transform:scaleX(0.8692);color:#231f20">300</div><div class="t" style="left:946.73px;top:1308.04px;font-size:16.2px;font-family:'Liberation Sans',sans-serif;font-weight:bold;transform:scaleX(0.8692);color:#231f20">944</div><div class="t" style="left:1083.40px;top:1308.04px;font-size:16.2px;font-family:'Liberation Sans',sans-serif;font-weight:bold;transform:scaleX(0.8692);color:#231f20">40-61</div><div class="t" style="left:98.33px;top:1330.24px;font-size:16.2px;font-family:'Liberation Sans',sans-serif;font-weight:bold;transform:scaleX(0.8692);color:#231f20">1 1/4”</div><div class="t" style="left:172.80px;top:1330.24px;font-size:16.2px;font-family:'Liberation Sans',sans-serif;font-weight:bold;transform:scaleX(0.8692);color:#231f20">32.00</div><div class="t" style="left:267.10px;top:1330.24px;font-size:16.2px;font-family:'Liberation Sans',sans-serif;font-weight:bold;transform:scaleX(0.8692);color:#231f20">46.00</div><div class="t" style="left:369.40px;top:1330.24px;font-size:16.2px;font-family:'Liberation Sans',sans-serif;font-weight:bold;transform:scaleX(0.8692);color:#231f20">40</div><div class="t" style="left:443.33px;top:1330.24px;font-size:16.2px;font-family:'Liberation Sans',sans-serif;font-weight:bold;transform:scaleX(0.8692);color:#231f20">580</div><div class="t" style="left:523.83px;top:1330.24px;font-size:16.2px;font-family:'Liberation Sans',sans-serif;font-weight:bold;transform:scaleX(0.8692);color:#231f20">120</div><div class="t" style="left:600.13px;top:1330.24px;font-size:16.2px;font-family:'Liberation Sans',sans-serif;font-weight:bold;transform:scaleX(0.8692);color:#231f20">1740</div><div class="t" style="left:706.29px;top:1330.24px;font-size:16.2px;font-family:'Liberation Sans',sans-serif;font-weight:bold;transform:scaleX(0.8692);color:#231f20">-</div><div class="t" style="left:820.83px;top:1330.24px;font-size:16.2px;font-family:'Liberation Sans',sans-serif;font-weight:bold;transform:scaleX(0.8692);color:#231f20">320</div><div class="t" style="left:946.73px;top:1330.24px;font-size:16.2px;font-family:'Liberation Sans',sans-serif;font-weight:bold;transform:scaleX(0.8692);color:#231f20">995</div><div class="t" style="left:1083.40px;top:1330.24px;font-size:16.2px;font-family:'Liberation Sans',sans-serif;font-weight:bold;transform:scaleX(0.8692);color:#231f20">40-61</div><div class="t" style="left:98.33px;top:1352.04px;font-size:16.2px;font-family:'Liberation Sans',sans-serif;font-weight:bold;transform:scaleX(0.8692);color:#231f20">1 3/8”</div><div class="t" style="left:172.80px;top:1352.04px;font-size:16.2px;font-family:'Liberation Sans',sans-serif;font-weight:bold;transform:scaleX(0.8692);color:#231f20">35.00</div><div class="t" style="left:267.10px;top:1352.04px;font-size:16.2px;font-family:'Liberation Sans',sans-serif;font-weight:bold;transform:scaleX(0.8692);color:#231f20">49.00</div><div class="t" style="left:369.40px;top:1352.04px;font-size:16.2px;font-family:'Liberation Sans',sans-serif;font-weight:bold;transform:scaleX(0.8692);color:#231f20">40</div><div class="t" style="left:443.33px;top:1352.04px;font-size:16.2px;font-family:'Liberation Sans',sans-serif;font-weight:bold;transform:scaleX(0.8692);color:#231f20">580</div><div class="t" style="left:523.83px;top:1352.04px;font-size:16.2px;font-family:'Liberation Sans',sans-serif;font-weight:bold;transform:scaleX(0.8692);color:#231f20">120</div><div class="t" style="left:600.13px;top:1352.04px;font-size:16.2px;font-family:'Liberation Sans',sans-serif;font-weight:bold;transform:scaleX(0.8692);color:#231f20">1740</div><div class="t" style="left:706.29px;top:1352.04px;font-size:16.2px;font-family:'Liberation Sans',sans-serif;font-weight:bold;transform:scaleX(0.8692);color:#231f20">-</div><div class="t" style="left:820.83px;top:1352.04px;font-size:16.2px;font-family:'Liberation Sans',sans-serif;font-weight:bold;transform:scaleX(0.8692);color:#231f20">350</div><div class="t" style="left:938.91px;top:1352.04px;font-size:16.2px;font-family:'Liberation Sans',sans-serif;font-weight:bold;transform:scaleX(0.8692);color:#231f20">1072</div><div class="t" style="left:1083.40px;top:1352.04px;font-size:16.2px;font-family:'Liberation Sans',sans-serif;font-weight:bold;transform:scaleX(0.8692);color:#231f20">40-61</div><div class="t" style="left:98.33px;top:1372.94px;font-size:16.2px;font-family:'Liberation Sans',sans-serif;font-weight:bold;transform:scaleX(0.8692);color:#231f20">1 1/2”</div><div class="t" style="left:172.80px;top:1372.94px;font-size:16.2px;font-family:'Liberation Sans',sans-serif;font-weight:bold;transform:scaleX(0.8692);color:#231f20">38.00</div><div class="t" style="left:266.23px;top:1372.94px;font-size:16.2px;font-family:'Liberation Sans',sans-serif;font-weight:bold;transform:scaleX(0.8692);color:#231f20">54.00</div><div class="t" style="left:369.40px;top:1372.94px;font-size:16.2px;font-family:'Liberation Sans',sans-serif;font-weight:bold;transform:scaleX(0.8692);color:#231f20">40</div><div class="t" style="left:443.33px;top:1372.94px;font-size:16.2px;font-family:'Liberation Sans',sans-serif;font-weight:bold;transform:scaleX(0.8692);color:#231f20">580</div><div class="t" style="left:523.83px;top:1372.94px;font-size:16.2px;font-family:'Liberation Sans',sans-serif;font-weight:bold;transform:scaleX(0.8692);color:#231f20">120</div><div class="t" style="left:600.13px;top:1372.94px;font-size:16.2px;font-family:'Liberation Sans',sans-serif;font-weight:bold;transform:scaleX(0.8692);color:#231f20">1740</div><div class="t" style="left:706.29px;top:1372.94px;font-size:16.2px;font-family:'Liberation Sans',sans-serif;font-weight:bold;transform:scaleX(0.8692);color:#231f20">-</div><div class="t" style="left:820.83px;top:1372.94px;font-size:16.2px;font-family:'Liberation Sans',sans-serif;font-weight:bold;transform:scaleX(0.8692);color:#231f20">380</div><div class="t" style="left:938.91px;top:1372.94px;font-size:16.2px;font-family:'Liberation Sans',sans-serif;font-weight:bold;transform:scaleX(0.8692);color:#231f20">1384</div><div class="t" style="left:1083.40px;top:1372.94px;font-size:16.2px;font-family:'Liberation Sans',sans-serif;font-weight:bold;transform:scaleX(0.8692);color:#231f20">40-61</div><div class="t" style="left:98.33px;top:1395.24px;font-size:16.2px;font-family:'Liberation Sans',sans-serif;font-weight:bold;transform:scaleX(0.8692);color:#231f20">1 3/4”</div><div class="t" style="left:172.80px;top:1395.24px;font-size:16.2px;font-family:'Liberation Sans',sans-serif;font-weight:bold;transform:scaleX(0.8692);color:#231f20">44.50</div><div class="t" style="left:266.23px;top:1395.24px;font-size:16.2px;font-family:'Liberation Sans',sans-serif;font-weight:bold;transform:scaleX(0.8692);color:#231f20">61.00</div><div class="t" style="left:369.40px;top:1395.24px;font-size:16.2px;font-family:'Liberation Sans',sans-serif;font-weight:bold;transform:scaleX(0.8692);color:#231f20">40</div><div class="t" style="left:443.33px;top:1395.24px;font-size:16.2px;font-family:'Liberation Sans',sans-serif;font-weight:bold;transform:scaleX(0.8692);color:#231f20">580</div><div class="t" style="left:523.83px;top:1395.24px;font-size:16.2px;font-family:'Liberation Sans',sans-serif;font-weight:bold;transform:scaleX(0.8692);color:#231f20">120</div><div class="t" style="left:600.13px;top:1395.24px;font-size:16.2px;font-family:'Liberation Sans',sans-serif;font-weight:bold;transform:scaleX(0.8692);color:#231f20">1740</div><div class="t" style="left:706.29px;top:1395.24px;font-size:16.2px;font-family:'Liberation Sans',sans-serif;font-weight:bold;transform:scaleX(0.8692);color:#231f20">-</div><div class="t" style="left:820.83px;top:1395.24px;font-size:16.2px;font-family:'Liberation Sans',sans-serif;font-weight:bold;transform:scaleX(0.8692);color:#231f20">445</div><div class="t" style="left:938.91px;top:1395.24px;font-size:16.2px;font-family:'Liberation Sans',sans-serif;font-weight:bold;transform:scaleX(0.8692);color:#231f20">1632</div><div class="t" style="left:1083.40px;top:1395.24px;font-size:16.2px;font-family:'Liberation Sans',sans-serif;font-weight:bold;transform:scaleX(0.8692);color:#231f20">40-61</div><div class="t" style="left:99.20px;top:1416.54px;font-size:16.2px;font-family:'Liberation Sans',sans-serif;font-weight:bold;transform:scaleX(0.8692);color:#231f20">2”</div><div class="t" style="left:171.93px;top:1416.54px;font-size:16.2px;font-family:'Liberation Sans',sans-serif;font-weight:bold;transform:scaleX(0.8692);color:#231f20">50.80</div><div class="t" style="left:266.23px;top:1416.54px;font-size:16.2px;font-family:'Liberation Sans',sans-serif;font-weight:bold;transform:scaleX(0.8692);color:#231f20">68.00</div><div class="t" style="left:369.40px;top:1416.54px;font-size:16.2px;font-family:'Liberation Sans',sans-serif;font-weight:bold;transform:scaleX(0.8692);color:#231f20">40</div><div class="t" style="left:443.33px;top:1416.54px;font-size:16.2px;font-family:'Liberation Sans',sans-serif;font-weight:bold;transform:scaleX(0.8692);color:#231f20">580</div><div class="t" style="left:523.83px;top:1416.54px;font-size:16.2px;font-family:'Liberation Sans',sans-serif;font-weight:bold;transform:scaleX(0.8692);color:#231f20">120</div><div class="t" style="left:600.13px;top:1416.54px;font-size:16.2px;font-family:'Liberation Sans',sans-serif;font-weight:bold;transform:scaleX(0.8692);color:#231f20">1740</div><div class="t" style="left:706.29px;top:1416.54px;font-size:16.2px;font-family:'Liberation Sans',sans-serif;font-weight:bold;transform:scaleX(0.8692);color:#231f20">-</div><div class="t" style="left:820.83px;top:1416.54px;font-size:16.2px;font-family:'Liberation Sans',sans-serif;font-weight:bold;transform:scaleX(0.8692);color:#231f20">508</div><div class="t" style="left:938.91px;top:1416.54px;font-size:16.2px;font-family:'Liberation Sans',sans-serif;font-weight:bold;transform:scaleX(0.8692);color:#231f20">1965</div><div class="t" style="left:1083.40px;top:1416.54px;font-size:16.2px;font-family:'Liberation Sans',sans-serif;font-weight:bold;transform:scaleX(0.8692);color:#231f20">40-61</div><div class="t" style="left:76.05px;top:1661.96px;font-size:16.4px;font-family:'Liberation Sans',sans-serif;font-weight:normal;-webkit-text-stroke:0.6px #231f20;letter-spacing:0.5px;transform:scaleX(0.8484);color:#231f20">NORMS</div><div class="t" style="left:166.29px;top:1661.96px;font-size:16.4px;font-family:'Liberation Sans',sans-serif;font-weight:normal;transform:scaleX(0.9118);color:#231f20">ISO 1307</div><div class="t" style="left:614.20px;top:1661.82px;font-size:16px;font-family:'Liberation Sans',sans-serif;font-weight:normal;-webkit-text-stroke:0.6px #231f20;letter-spacing:0.5px;transform:scaleX(0.9818);white-space:pre;color:#231f20">- 40&#8202;°&#8202;C / +   70&#8202;°&#8202;C</div><div class="t" style="left:614.20px;top:1681.12px;font-size:16px;font-family:'Liberation Sans',sans-serif;font-weight:normal;-webkit-text-stroke:0.6px #231f20;letter-spacing:0.5px;transform:scaleX(1.0070);white-space:pre;color:#231f20">-  40&#8202;°&#8202;F / +158&#8202;°&#8202;F</div><div class="t" style="left:1148.90px;top:1675.57px;font-size:15.5px;font-family:'Liberation Sans',sans-serif;font-weight:normal;-webkit-text-stroke:0.6px #231f20;letter-spacing:0.5px;transform:scaleX(1.0118);color:#231f20">23</div><div class="t" style="left:956.20px;top:1657.67px;font-size:46px;font-family:'Liberation Serif',serif;font-weight:bold;-webkit-text-stroke:0.9px #231f20;transform:scaleX(0.9000);color:#231f20">S</div><div class="t" style="left:987.85px;top:1656.57px;font-size:46px;font-family:'Liberation Sans',sans-serif;font-weight:bold;-webkit-text-stroke:1.2px #dc231c;transform:scaleX(1.0454);color:#dc231c">ALTAY</div>
<svg style="position:absolute;left:0;top:0" width="1241" height="1755" viewBox="0 0 1241 1755"><defs>
<pattern id="dots" width="4.4" height="4.4" patternUnits="userSpaceOnUse" patternTransform="rotate(45)"><circle cx="2.2" cy="2.2" r="1.0" fill="#8a2a0e" fill-opacity="0.6"/></pattern>
<pattern id="halftone" width="3" height="3" patternUnits="userSpaceOnUse" patternTransform="rotate(45)"><circle cx="1.5" cy="1.5" r="0.7" fill="#000" fill-opacity="0.35"/></pattern>
<linearGradient id="orng" x1="0" y1="0" x2="0" y2="1"><stop offset="0" stop-color="#e0501c"/><stop offset="0.35" stop-color="#f47a32"/><stop offset="0.6" stop-color="#ef6a2a"/><stop offset="1" stop-color="#d8461a"/></linearGradient>
<linearGradient id="metal1" x1="0" y1="0" x2="0" y2="1"><stop offset="0" stop-color="#161616"/><stop offset="0.2" stop-color="#555"/><stop offset="0.38" stop-color="#bdbdbd"/><stop offset="0.55" stop-color="#6a6a6a"/><stop offset="0.75" stop-color="#2a2a2a"/><stop offset="0.9" stop-color="#4a4a4a"/><stop offset="1" stop-color="#161616"/></linearGradient>
<linearGradient id="metal3" x1="0" y1="0" x2="0" y2="1"><stop offset="0" stop-color="#1a1a1a"/><stop offset="0.25" stop-color="#777"/><stop offset="0.45" stop-color="#d8d8d8"/><stop offset="0.62" stop-color="#9a9a9a"/><stop offset="0.8" stop-color="#3a3a3a"/><stop offset="1" stop-color="#181818"/></linearGradient>
<linearGradient id="shadeL" x1="0" y1="0" x2="1" y2="0"><stop offset="0" stop-color="#000" stop-opacity="0.6"/><stop offset="0.6" stop-color="#000" stop-opacity="0"/></linearGradient>
<linearGradient id="metal2" x1="0" y1="0" x2="0" y2="1"><stop offset="0" stop-color="#151518"/><stop offset="0.25" stop-color="#7a7c82"/><stop offset="0.4" stop-color="#d8dade"/><stop offset="0.6" stop-color="#55575c"/><stop offset="0.8" stop-color="#18181b"/><stop offset="1" stop-color="#0e0e10"/></linearGradient>
<linearGradient id="hole1" x1="0" y1="0" x2="0" y2="1"><stop offset="0" stop-color="#777"/><stop offset="0.15" stop-color="#d6d6d6"/><stop offset="0.35" stop-color="#3a3a3a"/><stop offset="0.5" stop-color="#c8c8c8"/><stop offset="0.7" stop-color="#2e2e2e"/><stop offset="0.88" stop-color="#d0d0d0"/><stop offset="1" stop-color="#777"/></linearGradient>
<linearGradient id="hole2" x1="0" y1="0" x2="0" y2="1"><stop offset="0" stop-color="#b8bcc4"/><stop offset="0.2" stop-color="#2a2c30"/><stop offset="0.42" stop-color="#9ea2a8"/><stop offset="0.62" stop-color="#1e1f22"/><stop offset="0.85" stop-color="#c8ccd2"/><stop offset="1" stop-color="#e0e2e6"/></linearGradient>
<linearGradient id="cover1" x1="0" y1="0" x2="0.35" y2="1"><stop offset="0" stop-color="#1a1a1a"/><stop offset="0.35" stop-color="#2e2e2e"/><stop offset="0.6" stop-color="#505050"/><stop offset="0.85" stop-color="#2a2a2a"/><stop offset="1" stop-color="#161616"/></linearGradient>
<linearGradient id="cover2" x1="0" y1="0" x2="0" y2="1"><stop offset="0" stop-color="#1e2226"/><stop offset="0.18" stop-color="#4a545c"/><stop offset="0.42" stop-color="#6a7680"/><stop offset="0.62" stop-color="#3e464c"/><stop offset="0.8" stop-color="#1c2024"/><stop offset="1" stop-color="#121416"/></linearGradient>
</defs><path d="M838 30.6H1170V188.6H838A42.5 79 0 0 1 838 30.6Z" fill="#161515"/><path d="M1028 30.6C1044.6 30.6 1058.0 63.9 1058.0 105.0C1058.0 151.2 1052.6 188.6 1046.0 188.6L1046 188.6L1170 188.6L1170 30.6L1028 30.6Z" fill="url(#cover1)"/><path d="M1040 30.6C1055.5 30.6 1068.0 66.1 1068.0 110.0C1068.0 153.4 1062.2 188.6 1055.0 188.6L1055 188.6L1170 188.6L1170 30.6L1040 30.6Z" fill="url(#halftone)"/><text x="1070" y="118.3" font-family="Liberation Sans" font-size="25" fill="#161616" fill-opacity="0.8" textLength="100" lengthAdjust="spacing">TSE &gt;SE</text><path d="M838 42.4H1002L1005.7 43"/><rect x="838" y="42.4" width="168" height="118" fill="#241511"/><rect x="838" y="30.6" width="164" height="11.8" fill="#c9ccd4"/><rect x="845" y="42.4" width="160" height="2.6" fill="#b8401a"/><rect x="840" y="49" width="72" height="104" fill="url(#metal3)"/><rect x="860" y="49" width="52" height="104" fill="url(#shadeL)"/><rect x="930" y="44" width="62" height="112" fill="url(#metal3)"/><path d="M925.8 44.3H975C960 60 952 70 950 90L945 60Z" fill="#1a1a1a" fill-opacity="0.8"/><path d="M946.4 62.4C966 85 982 100 990.3 123" fill="none" stroke="#b5562a" stroke-width="1.3"/><path d="M880.2 45.1L925.8 44.3C942.9 44.3 956.7 71.5 956.7 105.0C956.7 132.7 950.9 155.2 943.8 155.2L902.8 152.3C906.8 152.3 910.1 132.5 910.1 108.0C910.1 73.3 896.7 45.1 880.2 45.1Z" fill="url(#orng)" stroke="#8a2a10" stroke-width="0.8"/><path d="M880.2 45.1L925.8 44.3C942.9 44.3 956.7 71.5 956.7 105.0C956.7 132.7 950.9 155.2 943.8 155.2L902.8 152.3C906.8 152.3 910.1 132.5 910.1 108.0C910.1 73.3 896.7 45.1 880.2 45.1Z" fill="url(#dots)"/><path d="M963.2 44.3L1005.7 43C1023.9 43.0 1038.6 69.6 1038.6 102.4C1038.6 132.3 1034.3 156.5 1029.0 156.5L980 155.9C986.4 155.9 991.5 134.8 991.5 108.8C991.5 73.2 978.8 44.3 963.2 44.3Z" fill="url(#orng)" stroke="#8a2a10" stroke-width="0.8"/><path d="M963.2 44.3L1005.7 43C1023.9 43.0 1038.6 69.6 1038.6 102.4C1038.6 132.3 1034.3 156.5 1029.0 156.5L980 155.9C986.4 155.9 991.5 134.8 991.5 108.8C991.5 73.2 978.8 44.3 963.2 44.3Z" fill="url(#dots)"/><path d="M865.7 158.8H1034L1033.4 166.8H873.8Z" fill="#c9ccd4"/><rect x="873" y="166.8" width="165" height="21.8" fill="#161515"/><path d="M838 30.6A42.5 79 0 0 0 838 188.6H860L873.8 167.6L865.7 158.8A34 66 0 0 1 838 44.3Z" fill="#161515"/><ellipse cx="838.5" cy="109.5" rx="33.5" ry="66" fill="none" stroke="#9a3420" stroke-width="2.4"/><ellipse cx="841" cy="110" rx="32" ry="63.5" fill="#121212"/><ellipse cx="840.3" cy="110.8" rx="20.5" ry="35.8" fill="url(#hole1)"/><path d="M852.9 754H1167V913.3H852.9A45.8 79.6 0 0 1 852.9 754Z" fill="#131316"/><path d="M1088 754C1107.3 754.0 1123.0 789.8 1123.0 834.0C1123.0 877.8 1115.4 913.3 1106.0 913.3L1106 913.3L1167 913.3L1167 754L1088 754Z" fill="url(#cover2)"/><path d="M1088 754C1107.3 754.0 1123.0 789.8 1123.0 834.0C1123.0 877.8 1115.4 913.3 1106.0 913.3L1106 913.3L1167 913.3L1167 754L1088 754Z" fill="url(#halftone)"/><path d="M1108 754C1135 760 1155 772 1162 790" fill="none" stroke="#9aa" stroke-width="0.8" stroke-opacity="0.7"/><rect x="852.9" y="760" width="220" height="126" fill="#121214"/><rect x="860" y="772" width="48" height="108" fill="url(#metal2)"/><rect x="975" y="764" width="55" height="120" fill="url(#metal2)"/><rect x="915" y="771" width="45" height="110" fill="url(#metal2)" fill-opacity="0.55"/><rect x="1045" y="761" width="35" height="124" fill="url(#metal2)" fill-opacity="0.6"/><path d="M983.8 792.7C1000 810 1015 835 1022.5 859.8" fill="none" stroke="#d08a3a" stroke-width="1.2"/><path d="M876 772L913.5 771.4C927.7 771.4 939.2 797.1 939.2 828.8C939.2 856.5 934.6 879.0 929.0 879.0L895.4 879C899.6 879.0 903.0 853.5 903.0 822.0C903.0 794.4 890.9 772.0 876.0 772.0Z" fill="url(#orng)" stroke="#8a2a10" stroke-width="0.8"/><path d="M876 772L913.5 771.4C927.7 771.4 939.2 797.1 939.2 828.8C939.2 856.5 934.6 879.0 929.0 879.0L895.4 879C899.6 879.0 903.0 853.5 903.0 822.0C903.0 794.4 890.9 772.0 876.0 772.0Z" fill="url(#dots)"/><path d="M923.8 771.4L956.8 768.2C974.9 768.2 989.6 793.6 989.6 825.0C989.6 855.9 984.7 881.0 978.7 881.0L946.4 881C951.4 881.0 955.5 854.6 955.5 822.0C955.5 794.1 941.3 771.4 923.8 771.4Z" fill="url(#orng)" stroke="#8a2a10" stroke-width="0.8"/><path d="M923.8 771.4L956.8 768.2C974.9 768.2 989.6 793.6 989.6 825.0C989.6 855.9 984.7 881.0 978.7 881.0L946.4 881C951.4 881.0 955.5 854.6 955.5 822.0C955.5 794.1 941.3 771.4 923.8 771.4Z" fill="url(#dots)"/><path d="M991.6 765.6L1027.7 764.3C1045.5 764.3 1059.9 793.7 1059.9 830.0C1059.9 859.3 1054.7 883.0 1048.3 883.0L1016 881.7C1021.4 881.7 1025.7 857.4 1025.7 827.5C1025.7 793.3 1010.4 765.6 991.6 765.6Z" fill="url(#orng)" stroke="#8a2a10" stroke-width="0.8"/><path d="M991.6 765.6L1027.7 764.3C1045.5 764.3 1059.9 793.7 1059.9 830.0C1059.9 859.3 1054.7 883.0 1048.3 883.0L1016 881.7C1021.4 881.7 1025.7 857.4 1025.7 827.5C1025.7 793.3 1010.4 765.6 991.6 765.6Z" fill="url(#dots)"/><path d="M1040.6 761.8L1068.9 760.5C1093.6 760.5 1113.7 793.4 1113.7 834.0C1113.7 862.4 1108.0 885.5 1101.0 885.5L1066.4 884.2C1071.7 884.2 1076.0 862.2 1076.0 835.0C1076.0 794.6 1060.2 761.8 1040.6 761.8Z" fill="url(#orng)" stroke="#8a2a10" stroke-width="0.8"/><path d="M1040.6 761.8L1068.9 760.5C1093.6 760.5 1113.7 793.4 1113.7 834.0C1113.7 862.4 1108.0 885.5 1101.0 885.5L1066.4 884.2C1071.7 884.2 1076.0 862.2 1076.0 835.0C1076.0 794.6 1060.2 761.8 1040.6 761.8Z" fill="url(#dots)"/><rect x="852.9" y="755.3" width="216" height="5.2" fill="#c5cad0"/><rect x="852.9" y="760.5" width="216" height="7" fill="#d4561e"/><path d="M852.9 763H1068M852.9 765.5H1060" stroke="#7a2a10" stroke-width="0.6"/><path d="M880 879H1101L1101 885.5H884Z" fill="#d4561e"/><path d="M884 885.5H1101L1101 891.3H885Z" fill="#c5cad0"/><rect x="880" y="891.3" width="222" height="22" fill="#131316"/><path d="M992.9 892C1003 900 1014 906 1023.8 912.6" fill="none" stroke="#aab" stroke-width="0.9"/><path d="M852.9 754A45.8 79.6 0 0 0 852.9 913.3H875L885 891.3L877.4 879A42 70 0 0 1 852.9 763Z" fill="#131316"/><clipPath id="fr2"><path d="M790 740H853V834H880V920H790Z"/></clipPath><g clip-path="url(#fr2)"><ellipse cx="853" cy="834" rx="40.8" ry="71" fill="#b23a1a"/><ellipse cx="853" cy="834" rx="38.5" ry="67.5" fill="none" stroke="#6a1e0c" stroke-width="0.6"/><ellipse cx="853" cy="834" rx="36.3" ry="64.5" fill="none" stroke="#6a1e0c" stroke-width="0.6"/><ellipse cx="853" cy="834" rx="34.5" ry="62.5" fill="none" stroke="#6a1e0c" stroke-width="0.6"/></g><ellipse cx="855" cy="834" rx="33.7" ry="60.5" fill="#111114"/><ellipse cx="853.2" cy="834" rx="26.1" ry="45.8" fill="url(#hole2)"/><defs>
<linearGradient id="flagshade" x1="0" y1="0" x2="1" y2="1"><stop offset="0" stop-color="#fff" stop-opacity="0.08"/><stop offset="0.5" stop-color="#000" stop-opacity="0"/><stop offset="1" stop-color="#000" stop-opacity="0.12"/></linearGradient>
</defs><g transform="translate(0,0)"><circle cx="159.2" cy="457.1" r="25.2" fill="none" stroke="#231f20" stroke-width="5.6"/><circle cx="158.8" cy="456.8" r="14.75" fill="none" stroke="#231f20" stroke-width="4.9"/><path d="M113.3 445.8H146M113.3 468.8H146" stroke="#231f20" stroke-width="2"/><path d="M120.1 447L116.3 454.6H123.9ZM120.1 468L116.3 459H123.9Z" fill="#231f20"/><path d="M120.1 454V459" stroke="#231f20" stroke-width="1"/><circle cx="293" cy="454.9" r="25.6" fill="none" stroke="#231f20" stroke-width="6.4"/><circle cx="292.8" cy="454.9" r="15.15" fill="none" stroke="#231f20" stroke-width="5.7"/><path d="M247.1 426.8H293M247.1 482.1H293" stroke="#231f20" stroke-width="2"/><path d="M254.6 427.9L248.4 441.6H260.8ZM254.6 481.5L248.4 467.2H260.8Z" fill="#231f20"/><path d="M254.6 441V468" stroke="#231f20" stroke-width="1"/><rect x="403.3" y="474" width="25.7" height="13.5" fill="#fff" stroke="#231f20" stroke-width="1"/><circle cx="416" cy="452.3" r="25.2" fill="#fff" stroke="#231f20" stroke-width="5.6"/><path d="M398.8 446.4A18.5 18.5 0 1 1 424.2 468.6" fill="none" stroke="#231f20" stroke-width="1"/><path d="M417 451.7L428.7 439.2" stroke="#231f20" stroke-width="1"/><circle cx="417" cy="451.7" r="4.1" fill="#231f20"/><rect x="564.3" y="474" width="26.4" height="13.6" fill="#fff" stroke="#231f20" stroke-width="1"/><circle cx="577.2" cy="452.5" r="25" fill="#fff" stroke="#231f20" stroke-width="6.2"/><path d="M571.1 470.6A19.5 19.5 0 1 1 594.3 443.5" fill="none" stroke="#231f20" stroke-width="1"/><path d="M576 451.2L563.6 438.8" stroke="#231f20" stroke-width="1"/><circle cx="576" cy="451.2" r="4.4" fill="#231f20"/><path d="M555.7 428.6A32 32 0 0 0 549 467.2" fill="none" stroke="#231f20" stroke-width="0.9"/><polyline points="543.7,430.4 543.7,416.2 549.5,433.5 534.8,426.8 546,438 525,427.3 543,442 517.5,437.5 541.5,448 517.5,448.6 543,452 527.3,459.6 543.5,457 528.6,473 546,463" fill="none" stroke="#231f20" stroke-width="0.9" stroke-linejoin="miter"/><path d="M687.8 431.4A31.7 31.7 0 0 1 687.8 485.7M729.7 431A31.3 31.3 0 0 0 729.7 485.3" fill="none" stroke="#231f20" stroke-width="5.8"/><path d="M802.4 460A30.35 32.2 0 0 1 863.1 460" fill="none" stroke="#231f20" stroke-width="9.2"/><rect x="798.0" y="459.6" width="9" height="21.7" fill="#fff" stroke="#231f20" stroke-width="1"/><rect x="798.8" y="481.3" width="7.5" height="5.3" fill="#fff" stroke="#231f20" stroke-width="1"/><rect x="858.4" y="459.6" width="9" height="21.7" fill="#fff" stroke="#231f20" stroke-width="1"/><rect x="859.1999999999999" y="481.3" width="7.5" height="5.3" fill="#fff" stroke="#231f20" stroke-width="1"/><path d="M829.3 466.4L845.4 451.1" stroke="#231f20" stroke-width="1"/><circle cx="829.3" cy="466.4" r="4.4" fill="#231f20"/><path d="M838.6 443H852.7L852.3 457.5Z" fill="#231f20"/><text x="826.8" y="453.5" font-family="Liberation Sans" font-size="20" fill="#231f20">r</text><path d="M947.6 448.15H939.5Q935.3 448.15 935.3 452.3V477.9Q935.3 482.05 939.5 482.05H971.8Q975.95 482.05 975.95 477.9V452.3Q975.95 448.15 971.8 448.15H963.8C969.5 443 968.6 438 968.6 436A13 9.9 0 0 0 942.6 436C942.6 438 942 443 947.6 448.15Z" fill="none" stroke="#231f20" stroke-width="6.1" stroke-linejoin="round"/><text x="955.9" y="472.5" text-anchor="middle" font-family="Liberation Sans" font-weight="bold" font-size="24" fill="#231f20">W</text><rect x="1031.8" y="439" width="115.7" height="41" fill="none" stroke="#444" stroke-width="1"/><rect x="1031.3" y="463.8" width="116.7" height="2.5" fill="#231f20"/><rect x="1031.3" y="470.8" width="116.7" height="9.7" fill="#231f20"/><path d="M1040.9 456V464M1057.2 456V464M1073.6 456V464M1089.9 456V464M1106 456V464M1122.3 456V464M1139 456V464M1049.1 459.1V464M1065.4 459.1V464M1081.8 459.1V464M1098.0 459.1V464M1114.2 459.1V464M1130.7 459.1V464" stroke="#231f20" stroke-width="1.5"/><text x="1040.9" y="452.6" text-anchor="middle" font-family="Liberation Sans" font-size="7.4" fill="#231f20">0</text><text x="1057.2" y="452.6" text-anchor="middle" font-family="Liberation Sans" font-size="7.4" fill="#231f20">1</text><text x="1073.6" y="453.20000000000005" text-anchor="middle" font-family="Liberation Sans" font-size="7.4" fill="#231f20">2</text><text x="1089.9" y="452.6" text-anchor="middle" font-family="Liberation Sans" font-size="7.4" fill="#231f20">3</text><text x="1106" y="452.6" text-anchor="middle" font-family="Liberation Sans" font-size="7.4" fill="#231f20">4</text><text x="1122.3" y="452.6" text-anchor="middle" font-family="Liberation Sans" font-size="7.4" fill="#231f20">5</text><text x="1139" y="452.6" text-anchor="middle" font-family="Liberation Sans" font-size="7.4" fill="#231f20">6</text></g><g transform="translate(0,710.7)"><circle cx="159.2" cy="457.1" r="25.2" fill="none" stroke="#231f20" stroke-width="5.6"/><circle cx="158.8" cy="456.8" r="14.75" fill="none" stroke="#231f20" stroke-width="4.9"/><path d="M113.3 445.8H146M113.3 468.8H146" stroke="#231f20" stroke-width="2"/><path d="M120.1 447L116.3 454.6H123.9ZM120.1 468L116.3 459H123.9Z" fill="#231f20"/><path d="M120.1 454V459" stroke="#231f20" stroke-width="1"/><circle cx="293" cy="454.9" r="25.6" fill="none" stroke="#231f20" stroke-width="6.4"/><circle cx="292.8" cy="454.9" r="15.15" fill="none" stroke="#231f20" stroke-width="5.7"/><path d="M247.1 426.8H293M247.1 482.1H293" stroke="#231f20" stroke-width="2"/><path d="M254.6 427.9L248.4 441.6H260.8ZM254.6 481.5L248.4 467.2H260.8Z" fill="#231f20"/><path d="M254.6 441V468" stroke="#231f20" stroke-width="1"/><rect x="403.3" y="474" width="25.7" height="13.5" fill="#fff" stroke="#231f20" stroke-width="1"/><circle cx="416" cy="452.3" r="25.2" fill="#fff" stroke="#231f20" stroke-width="5.6"/><path d="M398.8 446.4A18.5 18.5 0 1 1 424.2 468.6" fill="none" stroke="#231f20" stroke-width="1"/><path d="M417 451.7L428.7 439.2" stroke="#231f20" stroke-width="1"/><circle cx="417" cy="451.7" r="4.1" fill="#231f20"/><rect x="564.3" y="474" width="26.4" height="13.6" fill="#fff" stroke="#231f20" stroke-width="1"/><circle cx="577.2" cy="452.5" r="25" fill="#fff" stroke="#231f20" stroke-width="6.2"/><path d="M571.1 470.6A19.5 19.5 0 1 1 594.3 443.5" fill="none" stroke="#231f20" stroke-width="1"/><path d="M576 451.2L563.6 438.8" stroke="#231f20" stroke-width="1"/><circle cx="576" cy="451.2" r="4.4" fill="#231f20"/><path d="M555.7 428.6A32 32 0 0 0 549 467.2" fill="none" stroke="#231f20" stroke-width="0.9"/><polyline points="543.7,430.4 543.7,416.2 549.5,433.5 534.8,426.8 546,438 525,427.3 543,442 517.5,437.5 541.5,448 517.5,448.6 543,452 527.3,459.6 543.5,457 528.6,473 546,463" fill="none" stroke="#231f20" stroke-width="0.9" stroke-linejoin="miter"/><path d="M687.8 431.4A31.7 31.7 0 0 1 687.8 485.7M729.7 431A31.3 31.3 0 0 0 729.7 485.3" fill="none" stroke="#231f20" stroke-width="5.8"/><path d="M802.4 460A30.35 32.2 0 0 1 863.1 460" fill="none" stroke="#231f20" stroke-width="9.2"/><rect x="798.0" y="459.6" width="9" height="21.7" fill="#fff" stroke="#231f20" stroke-width="1"/><rect x="798.8" y="481.3" width="7.5" height="5.3" fill="#fff" stroke="#231f20" stroke-width="1"/><rect x="858.4" y="459.6" width="9" height="21.7" fill="#fff" stroke="#231f20" stroke-width="1"/><rect x="859.1999999999999" y="481.3" width="7.5" height="5.3" fill="#fff" stroke="#231f20" stroke-width="1"/><path d="M829.3 466.4L845.4 451.1" stroke="#231f20" stroke-width="1"/><circle cx="829.3" cy="466.4" r="4.4" fill="#231f20"/><path d="M838.6 443H852.7L852.3 457.5Z" fill="#231f20"/><text x="826.8" y="453.5" font-family="Liberation Sans" font-size="20" fill="#231f20">r</text><path d="M947.6 448.15H939.5Q935.3 448.15 935.3 452.3V477.9Q935.3 482.05 939.5 482.05H971.8Q975.95 482.05 975.95 477.9V452.3Q975.95 448.15 971.8 448.15H963.8C969.5 443 968.6 438 968.6 436A13 9.9 0 0 0 942.6 436C942.6 438 942 443 947.6 448.15Z" fill="none" stroke="#231f20" stroke-width="6.1" stroke-linejoin="round"/><text x="955.9" y="472.5" text-anchor="middle" font-family="Liberation Sans" font-weight="bold" font-size="24" fill="#231f20">W</text><rect x="1031.8" y="439" width="115.7" height="41" fill="none" stroke="#444" stroke-width="1"/><rect x="1031.3" y="463.8" width="116.7" height="2.5" fill="#231f20"/><rect x="1031.3" y="470.8" width="116.7" height="9.7" fill="#231f20"/><path d="M1040.9 456V464M1057.2 456V464M1073.6 456V464M1089.9 456V464M1106 456V464M1122.3 456V464M1139 456V464M1049.1 459.1V464M1065.4 459.1V464M1081.8 459.1V464M1098.0 459.1V464M1114.2 459.1V464M1130.7 459.1V464" stroke="#231f20" stroke-width="1.5"/><text x="1040.9" y="452.6" text-anchor="middle" font-family="Liberation Sans" font-size="7.4" fill="#231f20">0</text><text x="1057.2" y="452.6" text-anchor="middle" font-family="Liberation Sans" font-size="7.4" fill="#231f20">1</text><text x="1073.6" y="453.20000000000005" text-anchor="middle" font-family="Liberation Sans" font-size="7.4" fill="#231f20">2</text><text x="1089.9" y="452.6" text-anchor="middle" font-family="Liberation Sans" font-size="7.4" fill="#231f20">3</text><text x="1106" y="452.6" text-anchor="middle" font-family="Liberation Sans" font-size="7.4" fill="#231f20">4</text><text x="1122.3" y="452.6" text-anchor="middle" font-family="Liberation Sans" font-size="7.4" fill="#231f20">5</text><text x="1139" y="452.6" text-anchor="middle" font-family="Liberation Sans" font-size="7.4" fill="#231f20">6</text></g><g transform="translate(103.1,216.1)"><rect width="30.8" height="30.6" fill="#d8141c"/><rect width="30.8" height="30.6" fill="url(#flagshade)"/><circle cx="11.9" cy="15.4" r="7.9" fill="#fff"/><circle cx="14.5" cy="14.8" r="6.4" fill="#d8141c"/><polygon points="22.2,11.9 23.05,14.3 25.6,14.35 23.55,15.9 24.3,18.35 22.2,16.9 20.1,18.35 20.85,15.9 18.8,14.35 21.35,14.3" fill="#fff"/></g><g transform="translate(103.1,317.1)"><svg width="30.9" height="31.9" viewBox="15 0 30 30" preserveAspectRatio="none"><rect x="0" y="0" width="60" height="30" fill="#1f3c8f"/><path d="M0 0L60 30M60 0L0 30" stroke="#f2f2f2" stroke-width="6"/><path d="M0 0L60 30M60 0L0 30" stroke="#cc1f2f" stroke-width="2"/><path d="M30 0V30M0 15H60" stroke="#f2f2f2" stroke-width="10"/><path d="M30 0V30M0 15H60" stroke="#cc1f2f" stroke-width="6"/><rect x="15" y="0" width="30" height="30" fill="url(#flagshade)"/></svg></g><g transform="translate(103.1,936.1)"><rect width="30.8" height="30.6" fill="#d8141c"/><rect width="30.8" height="30.6" fill="url(#flagshade)"/><circle cx="11.9" cy="15.4" r="7.9" fill="#fff"/><circle cx="14.5" cy="14.8" r="6.4" fill="#d8141c"/><polygon points="22.2,11.9 23.05,14.3 25.6,14.35 23.55,15.9 24.3,18.35 22.2,16.9 20.1,18.35 20.85,15.9 18.8,14.35 21.35,14.3" fill="#fff"/></g><g transform="translate(103.1,1031.8)"><svg width="30.9" height="31.9" viewBox="15 0 30 30" preserveAspectRatio="none"><rect x="0" y="0" width="60" height="30" fill="#1f3c8f"/><path d="M0 0L60 30M60 0L0 30" stroke="#f2f2f2" stroke-width="6"/><path d="M0 0L60 30M60 0L0 30" stroke="#cc1f2f" stroke-width="2"/><path d="M30 0V30M0 15H60" stroke="#f2f2f2" stroke-width="10"/><path d="M30 0V30M0 15H60" stroke="#cc1f2f" stroke-width="6"/><rect x="15" y="0" width="30" height="30" fill="url(#flagshade)"/></svg></g><path d="M405 1668.4H581.7A9.5 9.5 0 0 1 581.7 1687.4H405" fill="none" stroke="#231f20" stroke-width="6.4"/><circle cx="393.4" cy="1678.4" r="16.75" fill="none" stroke="#231f20" stroke-width="7.1"/><rect x="402" y="1671.6" width="12" height="12.6" fill="#fff"/><circle cx="393.2" cy="1677.9" r="7.2" fill="#231f20"/><path d="M395 1677.7H539" stroke="#231f20" stroke-width="5.2"/><circle cx="539.5" cy="1677.7" r="4" fill="#231f20"/><rect x="421.10" y="1651.2" width="2.6" height="9.7" fill="#231f20"/><rect x="434.80" y="1651.2" width="1.6" height="9.7" fill="#231f20"/><rect x="447.80" y="1651.2" width="2.6" height="9.7" fill="#231f20"/><rect x="460.90" y="1651.2" width="1.6" height="9.7" fill="#231f20"/><rect x="473.50" y="1651.2" width="2.6" height="9.7" fill="#231f20"/><rect x="485.60" y="1651.2" width="1.6" height="9.7" fill="#231f20"/><rect x="498.10" y="1651.2" width="2.6" height="9.7" fill="#231f20"/><rect x="511.60" y="1651.2" width="1.6" height="9.7" fill="#231f20"/><rect x="522.30" y="1651.2" width="2.6" height="9.7" fill="#231f20"/><rect x="431.40" y="1695.1" width="2.6" height="9.7" fill="#231f20"/><rect x="445.00" y="1695.1" width="1.6" height="9.7" fill="#231f20"/><rect x="456.90" y="1695.1" width="2.6" height="9.7" fill="#231f20"/><rect x="470.20" y="1695.1" width="1.6" height="9.7" fill="#231f20"/><rect x="482.60" y="1695.1" width="2.6" height="9.7" fill="#231f20"/><rect x="496.70" y="1695.1" width="1.6" height="9.7" fill="#231f20"/><rect x="507.80" y="1695.1" width="2.6" height="9.7" fill="#231f20"/><path d="M932.5 1668.2L949.3 1694.1Q951.5 1698.6 956.5 1699.4L908 1699.4Q913.5 1698.6 915.6 1696.8Z" fill="#231f20"/><path d="M926.3 1681.3L929.8 1677.3L936 1688.8L932.9 1692.4ZM920.9 1690.2L918.2 1695.3Q920.5 1698 921.8 1699.6L928.4 1699.6ZM935.6 1689.5L938.7 1694.6Q936 1697.5 934.7 1699.6L929.8 1699.6Z" fill="#fff"/></svg>
<div id="bd"></div>
</div></body></html>
